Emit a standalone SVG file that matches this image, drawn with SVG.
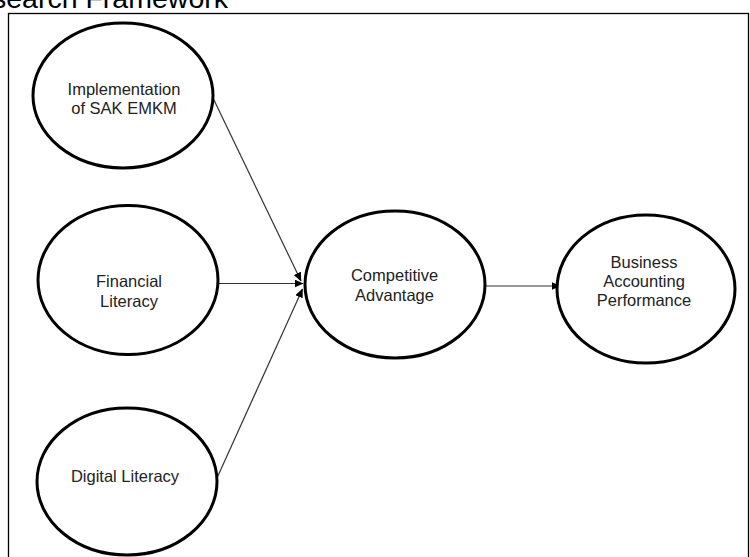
<svg xmlns="http://www.w3.org/2000/svg" width="750" height="557" viewBox="0 0 750 557">
<style>
  .node { fill: #ffffff; stroke: #000000; stroke-width: 3; }
  .label { font-family: "Liberation Sans", Arial, sans-serif; font-size: 16.5px; fill: #222222; text-anchor: middle; }
  .title { font-family: "Liberation Sans", Arial, sans-serif; font-size: 28.5px; fill: #000000; }
  .edge { stroke: #333333; stroke-width: 1.2; fill: none; marker-end: url(#arrow); }
</style>
<defs>
  <marker id="arrow" markerWidth="9" markerHeight="8" refX="8.5" refY="4" orient="auto" markerUnits="userSpaceOnUse">
    <path d="M0,0 L9,4 L0,8 Z" fill="#000000"/>
  </marker>
</defs>
<rect x="0" y="0" width="750" height="557" fill="#ffffff"/>
<text class="title" x="-8" y="8">search Framework</text>
<rect x="8.5" y="13.5" width="740" height="560" fill="none" stroke="#000000" stroke-width="1.3"/>
<g id="connectors">
  <line class="edge" x1="213" y1="98" x2="301" y2="281"/>
  <line class="edge" x1="218" y1="283.5" x2="303" y2="283.5"/>
  <line class="edge" x1="217" y1="478" x2="302.5" y2="289"/>
  <line class="edge" x1="485" y1="286" x2="560" y2="286"/>
</g>
<g id="node-sak">
  <ellipse class="node" cx="123" cy="95.5" rx="90" ry="72.5"/>
  <text class="label" x="124" y="95">Implementation</text>
  <text class="label" x="124" y="113.5">of SAK EMKM</text>
</g>
<g id="node-financial">
  <ellipse class="node" cx="128" cy="280" rx="90" ry="74.5"/>
  <text class="label" x="129" y="287">Financial</text>
  <text class="label" x="129" y="306.5">Literacy</text>
</g>
<g id="node-digital">
  <ellipse class="node" cx="127" cy="481.5" rx="90" ry="73.5"/>
  <text class="label" x="125" y="481.5">Digital Literacy</text>
</g>
<g id="node-competitive">
  <ellipse class="node" cx="395" cy="284.5" rx="90" ry="73.5"/>
  <text class="label" x="394.5" y="280.5">Competitive</text>
  <text class="label" x="394.5" y="300.5">Advantage</text>
</g>
<g id="node-performance">
  <ellipse class="node" cx="646" cy="289" rx="89" ry="74"/>
  <text class="label" x="644" y="267.5">Business</text>
  <text class="label" x="644" y="286.5">Accounting</text>
  <text class="label" x="644" y="305.5">Performance</text>
</g>
</svg>
